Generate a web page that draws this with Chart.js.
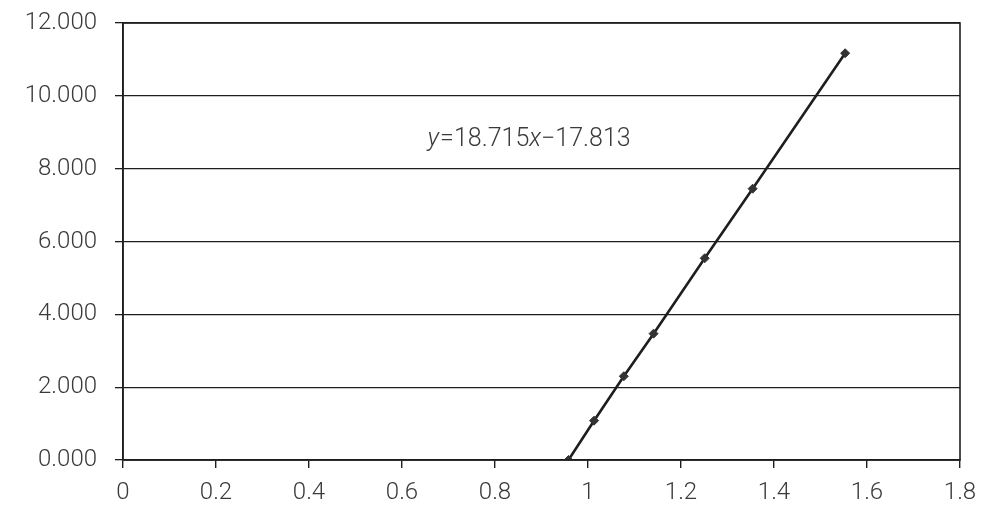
<!DOCTYPE html>
<html>
<head>
<meta charset="utf-8">
<script src="https://cdn.jsdelivr.net/npm/chart.js@4"></script>
<style>
  html, body { margin: 0; padding: 0; background: #fff; }
  #wrap { width: 991px; height: 511px; position: relative; }
</style>
</head>
<body>
<div id="wrap"><canvas id="scatterChart"></canvas></div>
<script>
Chart.defaults.font.family = 'Roboto'
Chart.defaults.font.weight = 300
Chart.defaults.font.size = 24
Chart.defaults.color = '#3a3a3a'

// values
const xValues = [0.958, 1.013, 1.077, 1.141, 1.251, 1.354, 1.553];
const yValues = [0.0, 1.08, 2.30, 3.47, 5.54, 7.45, 11.17];
const xTicks = [0, 0.2, 0.4, 0.6, 0.8, 1, 1.2, 1.4, 1.6, 1.8];
const yTicks = [0, 2, 4, 6, 8, 10, 12];
const equationText = ['y', '=18.715', 'x', '\u221217.813'];
const equationAt = { x: 0.655, y: 8.8 };

const ink = '#1e1e1e';

// box round the plot area
const frame = {
  id: 'frame',
  afterDatasetsDraw: (chart) => {
    const { ctx, chartArea: a } = chart;
    ctx.save();
    ctx.strokeStyle = ink;
    ctx.lineWidth = 1.6;
    ctx.strokeRect(a.left, a.top, a.right - a.left, a.bottom - a.top);
    ctx.restore();
  }
};

// trendline equation, placed in data coordinates
const equation = {
  id: 'equation',
  afterDatasetsDraw: (chart) => {
    const { ctx, scales } = chart;
    let px = scales.x.getPixelForValue(equationAt.x);
    const py = scales.y.getPixelForValue(equationAt.y);
    ctx.save();
    ctx.fillStyle = '#3a3a3a';
    ctx.textBaseline = 'middle';
    equationText.forEach((part, i) => {
      const italic = i % 2 === 0;
      ctx.font = `${italic ? 'italic ' : ''}300 25px Roboto`;
      ctx.fillText(part, px, py);
      px += ctx.measureText(part).width + (i === 0 ? 1 : 0);
    });
    ctx.restore();
  }
};

const renderScatter = () => {
  const el = document.getElementById('scatterChart');
  new Chart(el, {
    type: 'scatter',
    data: {
      datasets: [{
        data: xValues.map((x, i) => ({ x: x, y: yValues[i] })),
        showLine: true,
        borderColor: ink,
        borderWidth: 2.6,
        pointStyle: 'rectRot',
        pointRadius: 4.5,
        pointBackgroundColor: '#333',
        pointBorderColor: '#333',
        pointBorderWidth: 1
      }]
    },
    options: {
      responsive: true,
      maintainAspectRatio: false,
      animation: false,
      layout: { padding: { left: 0, right: 31, top: 23, bottom: 0 } },
      plugins: {
        legend: { display: false },
        tooltip: { enabled: false }
      },
      scales: {
        x: {
          type: 'linear',
          min: 0,
          max: 1.8,
          afterBuildTicks: (s) => { s.ticks = xTicks.map(v => ({ value: v })); },
          afterFit: (s) => { s.height = 51; },
          grid: {
            drawOnChartArea: false,
            drawTicks: true,
            tickLength: 8,
            color: ink,
            lineWidth: 1.4
          },
          border: { color: ink, width: 1.6 },
          ticks: {
            padding: 11,
            callback: (v) => String(Math.round(v * 10) / 10)
          }
        },
        y: {
          min: 0,
          max: 12,
          afterBuildTicks: (s) => { s.ticks = yTicks.map(v => ({ value: v })); },
          afterFit: (s) => { s.width = 123; s.paddingTop = 0; s.paddingBottom = 0; },
          grid: {
            drawTicks: true,
            tickLength: 8,
            color: ink,
            lineWidth: 1.3
          },
          border: { color: ink, width: 1.6 },
          ticks: {
            padding: 18,
            callback: (v) => v.toFixed(3)
          }
        }
      }
    },
    plugins: [frame, equation]
  });
};

document.addEventListener('DOMContentLoaded', () => {
  renderScatter();
});
</script>
</body>
</html>
